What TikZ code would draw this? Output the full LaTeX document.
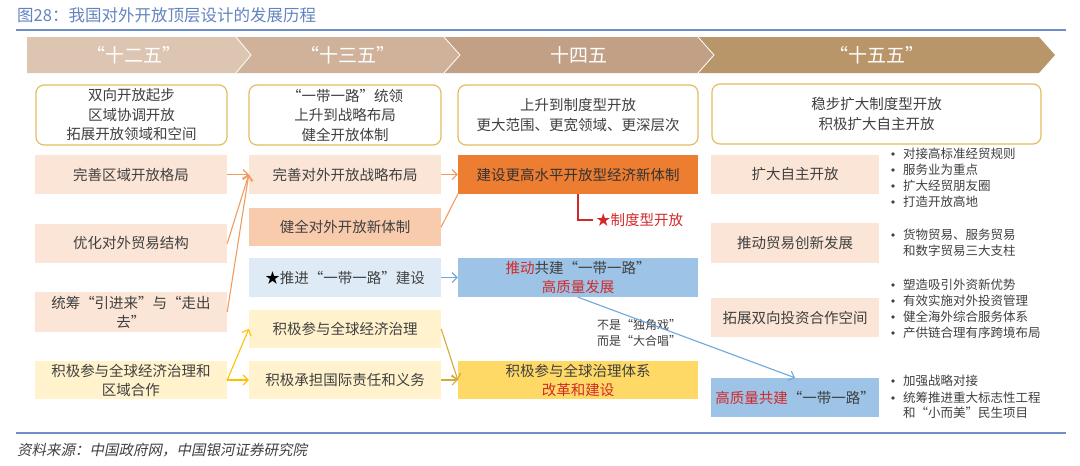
\documentclass[tikz,border=0pt]{standalone}
\usepackage{fontspec}
\setmainfont{Noto Sans CJK SC}
\newfontfamily\slantcjk[FakeSlant=0.2]{Noto Sans CJK SC}
\usetikzlibrary{arrows.meta,calc}
\definecolor{txt}{HTML}{404040}
\definecolor{ttl}{HTML}{6384C0}
\definecolor{rule}{HTML}{6E8FC9}
\definecolor{pinkf}{HTML}{FBE5D6}
\definecolor{peachf}{HTML}{F8CBAD}
\definecolor{lblue}{HTML}{DEEBF7}
\definecolor{lyel}{HTML}{FFF2CC}
\definecolor{orangef}{HTML}{ED7D31}
\definecolor{bluef}{HTML}{9DC3E6}
\definecolor{goldf}{HTML}{FFD966}
\definecolor{redt}{HTML}{D22A2A}
\definecolor{oline}{HTML}{F29B60}
\definecolor{bline}{HTML}{6FA8DC}
\definecolor{yline}{HTML}{FFC000}
\definecolor{gline}{HTML}{D4AA3A}
\definecolor{boxo}{HTML}{E2BE63}
\definecolor{segA}{HTML}{DCC6B2}
\definecolor{segB}{HTML}{CFB299}
\definecolor{segC}{HTML}{C1A085}
\definecolor{segD}{HTML}{B9966A}
\newcommand{\fsz}[2]{\fontsize{#1}{#2}\selectfont}
\newcommand{\rd}[1]{\textcolor{redt}{#1}}
\begin{document}
\begin{tikzpicture}[x=1pt,y=-1pt,
  cell/.style={minimum height=39, inner sep=0pt, align=center, font=\fsz{14.5}{19}, text=txt},
  cA/.style={cell, minimum width=192},
  cB/.style={cell, minimum width=240},
  cC/.style={cell, minimum width=168},
  hbox/.style={draw=boxo, line width=1.2pt, rounded corners=8pt, fill=white, inner sep=0pt, align=center, font=\fsz{14.5}{19.5}, text=txt},
  seg/.style={draw=white, line width=0.8pt},
  band/.style={text=white, font=\fsz{19}{21}},
  tip/.style={-{Straight Barb[length=5pt,width=10pt]}},
  oarr/.style={tip, draw=oline, line width=1.1pt},
  barr/.style={tip, draw=bline, line width=1.1pt},
  yarr/.style={tip, draw=yline, line width=1.1pt},
  garr/.style={tip, draw=gline, line width=1.1pt},
  dot/.style={circle, fill=txt, minimum size=3.6pt, inner sep=0pt},
  bul/.style={anchor=west, inner sep=0pt, font=\fsz{12.5}{14}, text=txt},
  note/.style={anchor=west, inner sep=0pt, font=\fsz{12}{14}, text=txt}]
\useasboundingbox[fill=white] (0,0) rectangle (1080,466);

% title and rules
\node[anchor=west, inner sep=0pt, text=ttl, font=\fsz{16.5}{18}] (title) at (17,15) {图28：我国对外开放顶层设计的发展历程};
\coordinate (r1a) at (16,30); \coordinate (r1b) at (1066,30);
\draw[rule, line width=1.6pt] (r1a) -- (r1b);
\coordinate (r2a) at (16,433); \coordinate (r2b) at (1066,433);
\draw[rule, line width=1.6pt] (r2a) -- (r2b);
\node[anchor=west, inner sep=0pt, text=txt, font=\slantcjk\fsz{14.5}{16}] (src) at (17,450) {资料来源：中国政府网，中国银河证券研究院};

% chevron band
\fill[segA] (27,37) -- (236,37) -- (251,55) -- (236,73) -- (27,73) -- cycle;
\fill[segB] (236,37) -- (444,37) -- (460,55) -- (444,73) -- (236,73) -- (251,55) -- cycle;
\fill[segC] (444,37) -- (698,37) -- (714,55) -- (698,73) -- (444,73) -- (460,55) -- cycle;
\fill[segD] (698,37) -- (1039,37) -- (1055,55) -- (1039,73) -- (698,73) -- (714,55) -- cycle;
\draw[seg] (236,37) -- (251,55) -- (236,73);
\draw[seg] (444,37) -- (460,55) -- (444,73);
\draw[seg] (698,37) -- (714,55) -- (698,73);
\node[band] (p12) at (134,55) {“十二五”};
\node[band] (p13) at (348,55) {“十三五”};
\node[band] (p14) at (579,55) {十四五};
\node[band] (p15) at (877,55) {“十五五”};

% header boxes
\node[hbox, minimum width=191, minimum height=60] (h1) at (131.5,115) {双向开放起步\\区域协调开放\\拓展开放领域和空间};
\node[hbox, minimum width=192, minimum height=60] (h2) at (345,115) {“一带一路”统领\\上升到战略布局\\健全开放体制};
\node[hbox, minimum width=240, minimum height=60] (h3) at (578,115) {上升到制度型开放\\更大范围、更宽领域、更深层次};
\node[hbox, minimum width=329, minimum height=60] (h4) at (876.5,114) {稳步扩大制度型开放\\积极扩大自主开放};

% column 1
\node[cA, fill=pinkf] (c1a) at (131,174.5) {完善区域开放格局};
\node[cA, fill=pinkf] (c1b) at (131,243.5) {优化对外贸易结构};
\node[cA, fill=pinkf, minimum height=40] (c1c) at (131,312) {统筹“引进来”与“走出\\去”};
\node[cA, fill=lyel, minimum height=38] (c1d) at (131,380) {积极参与全球经济治理和\\区域合作};

% column 2
\node[cA, fill=pinkf] (c2a) at (345,174.5) {完善对外开放战略布局};
\node[cA, fill=peachf, minimum height=38] (c2b) at (345,227) {健全对外开放新体制};
\node[cA, fill=lblue] (c2c) at (345,277.5) {\textcolor{black}{★}推进“一带一路”建设};
\node[cA, fill=lyel, minimum height=38] (c2d) at (345,329) {积极参与全球经济治理};
\node[cA, fill=lyel, minimum height=38] (c2e) at (345,380) {积极承担国际责任和义务};

% column 3
\node[cB, fill=orangef, text=black!80] (c3a) at (578,174.5) {建设更高水平开放型经济新体制};
\node[cB, fill=bluef] (c3b) at (578,277.5) {\rd{推动}共建“一带一路”\\\rd{高质量发展}};
\node[cB, fill=goldf, minimum height=38] (c3c) at (578,380) {积极参与全球治理体系\\\rd{改革和建设}};
\node[anchor=west, inner sep=0pt, text=redt, font=\fsz{14.5}{16}] (zd) at (596,220) {★制度型开放};

% column 4
\node[cC, fill=pinkf] (c4a) at (795,174.5) {扩大自主开放};
\node[cC, fill=pinkf, minimum height=40] (c4b) at (795,243) {推动贸易创新发展};
\node[cC, fill=pinkf] (c4c) at (795,317.5) {拓展双向投资合作空间};
\node[cC, fill=bluef] (c4d) at (795,397.5) {\rd{高质量共建}“一带一路”};

% bullets
\foreach \yy/\tt [count=\i] in {154/对接高标准经贸规则,170/服务业为重点,186/扩大经贸朋友圈,202/打造开放高地,235/货物贸易、服务贸易,285/塑造吸引外资新优势,301/有效实施对外投资管理,317/健全海外综合服务体系,333/产供链合理有序跨境布局,381/加强战略对接,398/统筹推进重大标志性工程}{
  \node[dot] (bd\i) at (893,\yy) {};
  \node[bul] (bt\i) at (903,\yy) {\tt};
}
\node[bul] (bt12) at (903,251) {和数字贸易三大支柱};
\node[bul] (bt13) at (903,413) {和“小而美”民生项目};

% notes
\node[note] (n1) at (597,325) {不是“独角戏”};
\node[note] (n2) at (597,341) {而是“大合唱”};

% connectors
\draw[oarr] (c1a.east) -- (c2a.west);
\draw[oarr] (c1b.east) -- (c2a.west);
\draw[oarr] (c1c.east) -- (c2a.west);
\draw[oarr] (c2a.east) -- (c3a.west);
\draw[draw=oline, line width=1.1pt] (c2b.east) -- (c3a.south west);
\draw[barr] (c2c.east) -- (c3b.west);
\draw[bline, line width=1.1pt, tip] (c3b.south) -- (c4d.north);
\draw[yarr] (c1d.east) -- (c2d.west);
\draw[yarr] (c1d.east) -- (c2e.west);
\draw[garr] (c2d.east) -- (c3c.west);
\draw[garr] (c2e.east) -- (c3c.west);
\draw[redt, line width=1.1pt] (c3a.south) |- ($(zd.west)+(-3,0)$);
\end{tikzpicture}
\end{document}
